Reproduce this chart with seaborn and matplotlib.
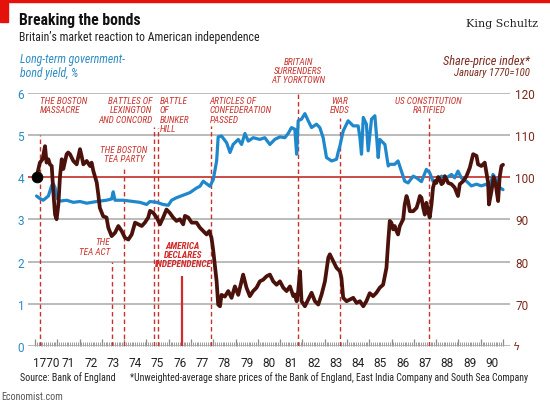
import os
import re
import numpy as np
import pandas as pd
import matplotlib
matplotlib.use("Agg")
import matplotlib.pyplot as plt
import seaborn as sns
from matplotlib import font_manager
from matplotlib.font_manager import FontProperties
from matplotlib.patches import Rectangle

# ---------------- data ----------------
bond_years = [1770.07, 1770.22, 1770.37, 1770.60, 1770.75, 1770.82, 1770.90, 1771.00, 1771.12,
              1771.42, 1771.72, 1772.02, 1772.32, 1772.77, 1773.21, 1773.44, 1773.51, 1773.59,
              1773.96, 1774.26, 1774.71, 1775.01, 1775.16, 1775.46, 1775.75, 1775.98, 1776.13,
              1776.35, 1776.65, 1776.95, 1777.25, 1777.40, 1777.55, 1777.70, 1777.85, 1778.00,
              1778.15, 1778.22, 1778.37, 1778.60, 1778.75, 1778.89, 1779.12, 1779.27, 1779.42,
              1779.57, 1779.79, 1780.09, 1780.31, 1780.54, 1780.76, 1780.99, 1781.21, 1781.36,
              1781.51, 1781.66, 1781.74, 1781.81, 1781.96, 1782.11, 1782.26, 1782.41, 1782.63,
              1782.78, 1782.93, 1783.08, 1783.31, 1783.53, 1783.60, 1783.68, 1783.83, 1784.05,
              1784.28, 1784.50, 1784.58, 1784.65, 1784.73, 1784.87, 1784.95, 1785.10, 1785.25,
              1785.32, 1785.40, 1785.47, 1785.70, 1785.85, 1785.92, 1786.14, 1786.29, 1786.44,
              1786.59, 1786.74, 1786.97, 1787.12, 1787.34, 1787.56, 1787.71, 1787.86, 1788.01,
              1788.24, 1788.46, 1788.69, 1788.83, 1788.98, 1789.13, 1789.36, 1789.58, 1789.81,
              1790.03, 1790.25, 1790.40, 1790.55, 1790.70, 1790.85, 1791.00]
bond_yield = [3.55, 3.49, 3.45, 3.55, 3.80, 3.84, 3.75, 3.49, 3.43,
              3.45, 3.40, 3.42, 3.38, 3.42, 3.45, 3.48, 3.65, 3.45,
              3.45, 3.43, 3.40, 3.35, 3.42, 3.40, 3.35, 3.33, 3.45,
              3.51, 3.57, 3.63, 3.74, 3.78, 3.90, 3.84, 3.78, 3.94,
              4.38, 4.95, 4.97, 4.81, 4.58, 4.77, 4.89, 4.77, 5.03,
              4.85, 4.93, 4.89, 4.93, 4.77, 4.89, 4.95, 4.93, 5.03,
              5.17, 5.13, 4.54, 5.33, 5.37, 5.50, 5.33, 5.17, 5.25,
              5.17, 4.93, 4.46, 4.38, 4.42, 4.58, 4.73, 5.09, 5.33,
              5.21, 5.21, 4.93, 4.54, 5.41, 5.25, 4.62, 5.37, 5.45,
              5.01, 4.46, 4.89, 4.77, 4.26, 4.30, 4.30, 4.38, 4.14,
              3.90, 3.86, 4.02, 3.98, 3.89, 4.18, 4.10, 3.90, 3.92,
              4.02, 3.98, 4.06, 3.98, 4.14, 3.98, 3.90, 3.79, 3.83,
              3.79, 3.83, 3.75, 4.06, 3.94, 3.75, 3.70]

share_years = [1770.07, 1770.15, 1770.22, 1770.34, 1770.45, 1770.52, 1770.60, 1770.67, 1770.75,
               1770.82, 1770.90, 1770.97, 1771.05, 1771.12, 1771.20, 1771.27, 1771.35, 1771.42,
               1771.49, 1771.57, 1771.72, 1771.87, 1772.02, 1772.09, 1772.17, 1772.32, 1772.47,
               1772.54, 1772.62, 1772.77, 1772.84, 1772.91, 1773.06, 1773.21, 1773.29, 1773.44,
               1773.59, 1773.74, 1773.89, 1774.04, 1774.19, 1774.34, 1774.49, 1774.64, 1774.79,
               1774.93, 1775.08, 1775.16, 1775.31, 1775.46, 1775.61, 1775.75, 1775.90, 1776.05,
               1776.20, 1776.35, 1776.50, 1776.65, 1776.73, 1776.88, 1777.03, 1777.25, 1777.40,
               1777.55, 1777.70, 1777.82, 1777.92, 1778.00, 1778.15, 1778.22, 1778.30, 1778.37,
               1778.52, 1778.67, 1778.82, 1778.97, 1779.12, 1779.27, 1779.34, 1779.49, 1779.64,
               1779.79, 1779.94, 1780.09, 1780.24, 1780.39, 1780.54, 1780.69, 1780.84, 1780.99,
               1781.14, 1781.29, 1781.44, 1781.59, 1781.66, 1781.74, 1781.81, 1781.89, 1781.96,
               1782.11, 1782.26, 1782.41, 1782.56, 1782.71, 1782.86, 1783.01, 1783.16, 1783.23,
               1783.38, 1783.53, 1783.68, 1783.75, 1783.83, 1783.98, 1784.13, 1784.28, 1784.43,
               1784.58, 1784.73, 1784.87, 1785.02, 1785.17, 1785.32, 1785.47, 1785.62, 1785.77,
               1785.85, 1785.92, 1785.99, 1786.07, 1786.14, 1786.22, 1786.29, 1786.37, 1786.52,
               1786.59, 1786.67, 1786.74, 1786.82, 1786.97, 1787.12, 1787.19, 1787.27, 1787.34,
               1787.42, 1787.49, 1787.56, 1787.64, 1787.71, 1787.79, 1787.86, 1787.94, 1788.01,
               1788.09, 1788.16, 1788.24, 1788.31, 1788.39, 1788.54, 1788.69, 1788.83, 1788.98,
               1789.06, 1789.21, 1789.36, 1789.51, 1789.66, 1789.81, 1789.88, 1790.03, 1790.18,
               1790.33, 1790.37, 1790.48, 1790.58, 1790.67, 1790.78, 1790.85, 1790.93, 1791.00]
share_index = [100.0, 101.8, 103.4, 104.2, 107.3, 103.4, 104.2, 103.0, 102.6,
               96.7, 91.1, 90.0, 93.5, 100.0, 104.2, 101.9, 103.8, 105.4,
               105.8, 105.4, 103.8, 103.0, 106.6, 105.0, 103.0, 103.8, 102.6,
               103.4, 101.4, 98.7, 95.9, 92.7, 90.7, 90.4, 88.0, 86.0,
               86.8, 88.4, 87.2, 85.6, 85.2, 86.4, 89.2, 88.8, 88.4,
               89.2, 90.4, 92.0, 91.5, 90.4, 88.8, 90.4, 92.3, 91.5,
               90.4, 89.6, 90.0, 88.8, 90.8, 90.4, 89.2, 89.2, 88.0,
               87.2, 86.4, 87.2, 85.6, 82.5, 75.3, 69.8, 69.4, 72.1,
               71.7, 73.0, 71.4, 74.1, 72.1, 75.3, 76.9, 73.8, 71.8,
               73.0, 73.8, 75.3, 75.7, 76.5, 76.9, 75.3, 74.5, 75.3,
               73.8, 73.0, 74.1, 71.8, 72.2, 70.6, 73.0, 77.7, 70.6,
               69.4, 71.0, 72.6, 70.6, 69.8, 72.2, 75.3, 80.9, 81.7,
               80.1, 78.5, 77.7, 76.1, 71.4, 70.6, 71.0, 71.4, 70.2,
               70.6, 69.4, 70.6, 72.5, 71.8, 72.6, 73.8, 74.5, 78.5,
               84.8, 89.6, 89.2, 87.6, 88.4, 87.2, 86.4, 88.4, 90.0,
               93.5, 95.5, 94.3, 91.9, 91.9, 92.7, 93.9, 95.5, 95.1,
               92.7, 91.1, 93.9, 91.9, 90.4, 93.5, 97.5, 99.0, 98.6,
               100.0, 99.6, 98.3, 98.6, 100.2, 98.6, 98.3, 97.5, 95.5,
               98.3, 99.0, 100.2, 102.2, 105.4, 105.0, 103.0, 102.6, 103.4,
               98.7, 93.5, 96.6, 100.0, 98.3, 94.3, 100.0, 102.6, 102.9]

year_labels = ["1770", "71", "72", "73", "74", "75", "76", "77", "78", "79", "80",
               "81", "82", "83", "84", "85", "86", "87", "88", "89", "90"]
left_ticks = [0, 1, 2, 3, 4, 5, 6]
right_ticks = [70, 80, 90, 100, 110, 120]

event_names = ["THE BOSTON\nMASSACRE", "THE\nTEA ACT", "THE BOSTON\nTEA PARTY",
               "BATTLES OF\nLEXINGTON\nAND CONCORD", "BATTLE\nOF\nBUNKER\nHILL",
               "ARTICLES OF\nCONFEDERATION\nPASSED", "BRITAIN\nSURRENDERS\nAT YORKTOWN",
               "WAR\nENDS", "US CONSTITUTION\nRATIFIED"]
event_dates = [1770.22, 1773.45, 1773.99, 1775.32, 1775.50, 1777.88, 1781.80, 1783.70, 1787.70]
independence_name = "AMERICA\nDECLARES\nINDEPENDENCE"
independence_date = 1776.60

# ---------------- fonts ----------------
sns.set_theme(style="white")
avail = {f.name for f in font_manager.fontManager.ttflist}
base_family = "Roboto" if "Roboto" in avail else "DejaVu Sans"
plt.rcParams["font.family"] = [base_family, "DejaVu Sans"]

SKIP = ("light", "thin", "medium", "black", "semibold", "extrabold", "demi", "heavy",
        "display", "[", "mono")
groups = {}
for f in font_manager.fontManager.ttflist:
    fn = os.path.basename(f.fname).lower()
    if any(s in fn for s in SKIP):
        continue
    key = re.sub(r"(bolditalic|boldoblique|bold|italic|oblique|regular|[-_ ]|\.ttf|\.otf|\.ttc)",
                 "", fn)
    italic = f.style in ("italic", "oblique")
    bold = (f.weight in ("bold", 700) or (isinstance(f.weight, int) and f.weight >= 700))
    groups.setdefault(key, {})[(italic, bold)] = f.fname

PREF = ["liberationsansnarrow", "notosanscondensed", "robotocondensed", "opensanscondensed",
        "latocondensed", "notosanssemicondensed", "opensanssemicondensed",
        "dejavusanscondensed"]
cond = None
for k in PREF:
    if k in groups and (False, False) in groups[k]:
        cond = groups[k]
        break


def fp(size, italic=False, bold=False):
    if cond is not None:
        fname = cond.get((italic, bold)) or cond.get((italic, False)) or cond[(False, False)]
        return FontProperties(fname=fname, size=size)
    return FontProperties(family=[base_family, "DejaVu Sans"], size=size,
                          style="italic" if italic else "normal",
                          weight="bold" if bold else "normal")


BLUE = "#1f88cc"
BLUE_TXT = "#2a8bc4"
BROWN = "#4a120a"
BROWN_TXT = "#7a2a1c"
RED = "#c8312c"
GRID = "#a8a8a8"

W, H = 550, 406
fig = plt.figure(figsize=(W / 100, H / 100), dpi=100)
fig.patch.set_facecolor("white")


def fx(px):
    return px / W


def fy(py):
    return 1 - py / H


ax = fig.add_axes([fx(28.3), fy(347), fx(509.7) - fx(28.3), fy(93.5) - fy(347)])
ax.set_xlim(1769.7, 1791.3)
ax.set_ylim(0, 6)
for s in ax.spines.values():
    s.set_visible(False)

ax.set_yticks(left_ticks)
ax.yaxis.grid(True, color=GRID, lw=1.1, zorder=0)
ax.set_axisbelow(True)
ax.axhline(4, color="#d0302a", lw=1.1, zorder=1)
ax.tick_params(axis="y", length=0, pad=3, labelcolor=BLUE_TXT, labelsize=8.5)

ax.set_xticks(np.arange(1770, 1792, 1))
ax.set_xticks(np.arange(1770, 1791.001, 1 / 12), minor=True)
ax.tick_params(axis="x", which="major", direction="in", length=5, width=0.9,
               color="#8c8c8c", labelbottom=False, bottom=True)
ax.tick_params(axis="x", which="minor", direction="in", length=2.6, width=0.6,
               color="#8c8c8c", bottom=True)
sec = ax.secondary_xaxis("bottom")
sec.set_xticks(np.arange(1770.5, 1791, 1), labels=year_labels)
sec.tick_params(length=0, pad=7, labelsize=8.5, labelcolor="#222222")
for s in sec.spines.values():
    s.set_visible(False)

dash_tops = [5.0, 2.0, 4.2, 5.18, 5.15, 5.2, 6.08, 5.4, 5.4]
ax.vlines(event_dates, 0, dash_tops, colors=RED, linestyles=(0, (3.2, 2.2)), lw=1.0, zorder=2)
ax.vlines([independence_date], 0, 1.65, colors="#d42a2a", lw=1.6, zorder=2)

bond_df = pd.DataFrame({"year": bond_years, "yield": bond_yield})
share_df = pd.DataFrame({"year": share_years, "index": share_index})
sns.lineplot(data=bond_df, x="year", y="yield", ax=ax, color=BLUE, lw=2.3,
             sort=False, estimator=None, zorder=3)
ax.set_xlabel("")
ax.set_ylabel("")

ax2 = ax.twinx()
ax2.set_ylim(60, 120)
ax2.set_yticks(right_ticks)
ax2.tick_params(axis="y", length=0, pad=4, labelcolor=BROWN_TXT, labelsize=8.5)
for s in ax2.spines.values():
    s.set_visible(False)
sns.lineplot(data=share_df, x="year", y="index", ax=ax2, color=BROWN, lw=2.7,
             sort=False, estimator=None, zorder=4)
sns.scatterplot(x=share_years[:1], y=share_index[:1], ax=ax2, color="black", s=60,
                edgecolor="black", zorder=5)
ax2.set_xlabel("")
ax2.set_ylabel("")
ax2.set_xlim(1769.7, 1791.3)

# ---------------- event labels ----------------
label_pos = [(1770.22, 5.91, "left"), (1773.38, 2.57, "right"), (1773.99, 4.75, "center"),
             (1775.27, 5.91, "right"), (1775.58, 5.91, "left"), (1777.84, 5.91, "left"),
             (1781.80, 6.85, "center"), (1783.68, 5.91, "center"), (1787.67, 5.91, "center")]
label_widths = [45, 29, 45, 53, 31, 62, 51, 20, 66]
ev_texts = []
for name, (lx, ly, ha) in zip(event_names, label_pos):
    ev_texts.append(ax.text(lx, ly, name, ha=ha, va="top", color=RED, linespacing=1.02,
                            fontproperties=fp(7.0, italic=True), zorder=6))
ind_txt = ax.text(1776.64, 2.49, independence_name, ha="center", va="top", color="#d42a2a",
                  linespacing=1.02, fontproperties=fp(7.0, italic=True, bold=True), zorder=6)

# ---------------- headings / footer ----------------
fig.patches.append(Rectangle((0, fy(2.5)), 1, 2.5 / H, transform=fig.transFigure,
                             color="#e3120b", zorder=10))
fig.patches.append(Rectangle((0, fy(23)), 8 / W, 23 / H, transform=fig.transFigure,
                             color="#e3120b", zorder=10))
fitted = []
t = fig.text(fx(19), fy(25), "Breaking the bonds", color="#111111", va="baseline",
             fontproperties=fp(11.5, bold=True))
fitted.append((t, 122))
t = fig.text(fx(19), fy(41), "Britain\u2019s market reaction to American independence",
             color="#222222", va="baseline", fontproperties=fp(9.0))
fitted.append((t, 241))
t = fig.text(fx(20), fy(53.5), "Long-term government-\nbond yield, %", color=BLUE_TXT,
             va="top", linespacing=1.0, fontproperties=fp(8.5, italic=True))
fitted.append((t, 105))
t = fig.text(fx(530), fy(65), "Share-price index*", color=BROWN_TXT, ha="right",
             va="baseline", fontproperties=fp(8.5, italic=True))
fitted.append((t, 87))
t = fig.text(fx(530), fy(76), "January 1770=100", color=BROWN_TXT, ha="right",
             va="baseline", fontproperties=fp(7.0, italic=True))
fitted.append((t, 76))
t = fig.text(fx(20), fy(378), "Source: Bank of England", color="#222222", va="center",
             fontproperties=fp(7.5))
fitted.append((t, 95))
t = fig.text(fx(130), fy(378),
             "*Unweighted-average share prices of the Bank of England, East India Company and South Sea Company",
             color="#222222", va="center", fontproperties=fp(7.5))
fitted.append((t, 398))
t = fig.text(fx(1), fy(397), "Economist.com", color="#555555", va="center",
             fontproperties=fp(7.5))
fitted.append((t, 61))
fig.text(fx(538), fy(27), "King Schultz", fontsize=8, family="DejaVu Serif",
         color="#222222", ha="right", va="baseline")
fig.text(fx(517), fy(347), "\u03df", fontsize=8, color=BROWN_TXT, ha="center",
         va="center", family="DejaVu Sans")

# fit text widths to the reference layout
renderer = fig.canvas.get_renderer()
for t, target in fitted:
    w = t.get_window_extent(renderer).width
    s = min(max(target / w, 0.7), 1.2)
    t.set_fontsize(t.get_fontsize() * s)
ratios = [tw / tt.get_window_extent(renderer).width for tt, tw in zip(ev_texts, label_widths)]
ratios.append(60 / ind_txt.get_window_extent(renderer).width)
es = min(max(float(np.median(ratios)) ** 0.6, 0.75), 1.2)
for tt in ev_texts + [ind_txt]:
    tt.set_fontsize(tt.get_fontsize() * es)

fig.savefig("out.png", dpi=100, facecolor="white")
